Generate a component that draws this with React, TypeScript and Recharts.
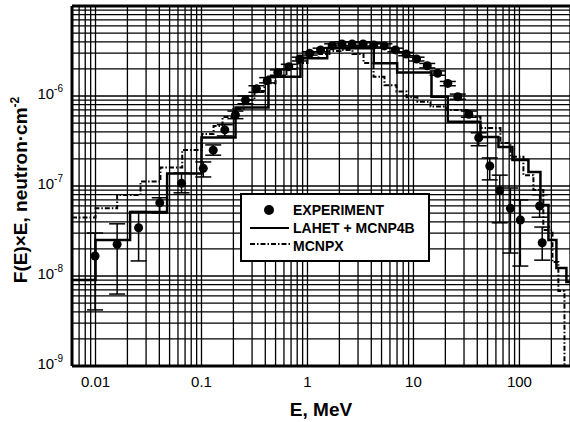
import React from 'react';
import {
  ComposedChart,
  XAxis,
  YAxis,
  CartesianGrid,
  Line,
  Scatter,
  ErrorBar,
  Legend,
  ReferenceLine,
} from 'recharts';

const FONT = '"Liberation Sans", Arial, Helvetica, sans-serif';

// ---------- experimental points ----------
const expE = [0.0099, 0.016, 0.0255, 0.0404, 0.0648, 0.104, 0.129, 0.166, 0.209, 0.26, 0.33, 0.417, 0.525, 0.667, 0.846, 1.05, 1.33, 1.71, 2.12, 2.64, 3.35, 4.22, 5.32, 6.76, 8.53, 10.7, 13.5, 16.9, 21.1, 26.2, 33.3, 41.3, 52.5, 65.2, 82.2, 102, 155, 164];
const expV = [1.67e-8, 2.25e-8, 3.44e-8, 6.5e-8, 1.07e-7, 1.57e-7, 2.5e-7, 4.2e-7, 6.15e-7, 9.0e-7, 1.2e-6, 1.48e-6, 1.83e-6, 2.12e-6, 2.58e-6, 2.98e-6, 3.25e-6, 3.62e-6, 3.79e-6, 3.79e-6, 3.79e-6, 3.69e-6, 3.6e-6, 3.25e-6, 2.93e-6, 2.58e-6, 2.17e-6, 1.79e-6, 1.38e-6, 9.8e-7, 6.27e-7, 3.44e-7, 1.67e-7, 8.9e-8, 5.65e-8, 4.19e-8, 6.0e-8, 2.34e-8];
const expLo = [4.2e-9, 6.3e-9, 1.47e-8, 5.0e-8, 8.4e-8, 1.26e-7, 2.2e-7, 3.6e-7, 5.6e-7, 8.2e-7, 1.1e-6, 1.4e-6, 1.7e-6, 2.0e-6, 2.45e-6, 2.85e-6, 3.1e-6, 3.45e-6, 3.6e-6, 3.6e-6, 3.6e-6, 3.5e-6, 3.4e-6, 3.1e-6, 2.8e-6, 2.45e-6, 2.05e-6, 1.7e-6, 1.3e-6, 9.2e-7, 5.8e-7, 2.8e-7, 1.17e-7, 3.9e-8, 1.8e-8, 1.29e-8, 4.5e-8, 1.5e-8];
const expHi = [3.0e-8, 3.8e-8, 5.2e-8, 7.4e-8, 1.39e-7, 1.85e-7, 2.86e-7, 4.8e-7, 6.8e-7, 1.0e-6, 1.3e-6, 1.6e-6, 1.95e-6, 2.25e-6, 2.7e-6, 3.1e-6, 3.4e-6, 3.8e-6, 4.0e-6, 4.0e-6, 4.0e-6, 3.9e-6, 3.8e-6, 3.4e-6, 3.05e-6, 2.7e-6, 2.3e-6, 1.9e-6, 1.45e-6, 1.05e-6, 6.8e-7, 3.9e-7, 2.05e-7, 1.32e-7, 9.5e-8, 7.0e-8, 8.0e-8, 3.5e-8];

// ---------- LAHET + MCNP4B histogram (bin left edges) ----------
const lahetE = [0.006, 0.01, 0.0212, 0.0474, 0.1, 0.2095, 0.4285, 0.859, 1.535, 4.22, 7.02, 14.8, 21.1, 42.9, 63.4, 85.9, 121.6, 157.8, 187.8, 223.4, 277.5, 300];
const lahetV = [9.03e-9, 2.51e-8, 5.14e-8, 1.38e-7, 3.46e-7, 7.45e-7, 1.64e-6, 2.62e-6, 3.39e-6, 2.31e-6, 1.82e-6, 9.82e-7, 5.17e-7, 3.5e-7, 2.71e-7, 1.95e-7, 1.43e-7, 6.15e-8, 2.51e-8, 1.23e-8, 8.57e-9, 8.57e-9];

// ---------- MCNPX histogram (bin left edges) ----------
const mcnpxE = [0.006, 0.01, 0.016, 0.0266, 0.041, 0.0658, 0.101, 0.13, 0.158, 0.2, 0.249, 0.316, 0.393, 0.499, 0.634, 0.805, 1.0, 1.27, 1.61, 2.05, 2.66, 3.38, 4.2, 5.33, 6.91, 8.6, 10.9, 14.5, 20.8, 32.1, 42.9, 66.2, 82.2, 109, 135.5, 168, 205, 233, 266, 300];
const mcnpxV = [4.47e-8, 5.65e-8, 7.94e-8, 1.12e-7, 1.61e-7, 2.51e-7, 3.78e-7, 4.64e-7, 5.85e-7, 7.18e-7, 9.03e-7, 1.14e-6, 1.39e-6, 1.67e-6, 2.0e-6, 2.33e-6, 2.64e-6, 2.93e-6, 3.16e-6, 3.24e-6, 2.93e-6, 2.33e-6, 1.64e-6, 1.32e-6, 1.12e-6, 9.68e-7, 8.65e-7, 7.63e-7, 6.99e-7, 5.89e-7, 4.41e-7, 3.0e-7, 2.12e-7, 1.32e-7, 9.03e-8, 3.24e-8, 1.43e-8, 6.81e-9, 1e-10, 1e-10];

// ---------- axes ----------
const xDomain = [0.006, 300];
const yDomain = [1e-9, 1e-5];
const xTicks = [
  0.007, 0.008, 0.009,
  0.01, 0.02, 0.03, 0.04, 0.05, 0.06, 0.07, 0.08, 0.09,
  0.1, 0.2, 0.3, 0.4, 0.5, 0.6, 0.7, 0.8, 0.9,
  1, 2, 3, 4, 5, 6, 7, 8, 9,
  10, 20, 30, 40, 50, 60, 70, 80, 90,
  100, 200,
];
const xLabelValues = [0.01, 0.1, 1, 10, 100];
const xLabelTexts = ['0.01', '0.1', '1', '10', '100'];
const yTicks = [
  1e-9, 2e-9, 3e-9, 4e-9, 5e-9, 6e-9, 7e-9, 8e-9, 9e-9,
  1e-8, 2e-8, 3e-8, 4e-8, 5e-8, 6e-8, 7e-8, 8e-8, 9e-8,
  1e-7, 2e-7, 3e-7, 4e-7, 5e-7, 6e-7, 7e-7, 8e-7, 9e-7,
  1e-6, 2e-6, 3e-6, 4e-6, 5e-6, 6e-6, 7e-6, 8e-6, 9e-6,
  1e-5,
];
const yLabelValues = [1e-9, 1e-8, 1e-7, 1e-6];
const yLabelExps = ['-9', '-8', '-7', '-6'];

const legendNames = ['EXPERIMENT', 'LAHET + MCNP4B', 'MCNPX'];

const expData = expE.map((e, i) => ({
  e,
  v: expV[i],
  err: [expV[i] - expLo[i], expHi[i] - expV[i]],
}));
const lahetData = lahetE.map((e, i) => ({ e, v: lahetV[i] }));
const mcnpxData = mcnpxE.map((e, i) => ({ e, v: mcnpxV[i] }));

const DASH = '5 2 1.5 2';

const XTick = (props: any) => {
  const { x, y, payload } = props;
  const idx = xLabelValues.indexOf(payload.value);
  if (idx < 0) return <g />;
  return (
    <text x={x} y={y + 21} textAnchor="middle" fontSize={15} fill="#000" fontFamily={FONT}>
      {xLabelTexts[idx]}
    </text>
  );
};

const YTick = (props: any) => {
  const { x, y, payload } = props;
  const idx = yLabelValues.indexOf(payload.value);
  if (idx < 0) return <g />;
  return (
    <text x={x} y={y + 3} textAnchor="end" fill="#000" fontFamily={FONT}>
      <tspan fontSize={15}>10</tspan>
      <tspan fontSize={10} dy={-7}>{yLabelExps[idx]}</tspan>
    </text>
  );
};

const renderLegend = () => (
  <div
    style={{
      width: 190,
      height: 69,
      boxSizing: 'border-box',
      border: '2px solid #000',
      background: '#fff',
      position: 'relative',
    }}
  >
    <svg width={190} height={69} style={{ position: 'absolute', left: -2, top: -2 }}>
      <circle cx={29} cy={17} r={5} fill="#000" />
      <line x1={10} x2={49} y1={35} y2={35} stroke="#000" strokeWidth={2} />
      <line x1={10} x2={51} y1={51} y2={51} stroke="#000" strokeWidth={2} strokeDasharray={DASH} />
      <text x={53} y={22} fontSize={14} fontWeight="bold" fontFamily={FONT} fill="#000">{legendNames[0]}</text>
      <text x={53} y={40} fontSize={14} fontWeight="bold" fontFamily={FONT} fill="#000">{legendNames[1]}</text>
      <text x={53} y={58} fontSize={14} fontWeight="bold" fontFamily={FONT} fill="#000">{legendNames[2]}</text>
    </svg>
  </div>
);

const YTitle = () => (
  <text
    x={27}
    y={190}
    transform="rotate(-90 27 190)"
    textAnchor="middle"
    fontSize={19}
    fontWeight="bold"
    fontFamily={FONT}
    fill="#000"
  >
    <tspan>F(E)×E, neutron·cm</tspan>
    <tspan fontSize={12} dy={-8}>-2</tspan>
  </text>
);

const XTitle = () => (
  <text x={321} y={416} textAnchor="middle" fontSize={19} fontWeight="bold" fontFamily={FONT} fill="#000">
    E, MeV
  </text>
);

export default function App() {
  return (
    <div style={{ position: 'absolute', left: 0, top: 0, width: 570, height: 422, background: '#fff', fontFamily: FONT }}>
      <ComposedChart width={570} height={422} margin={{ top: 6, right: 0, bottom: 0, left: 0 }}>
        <CartesianGrid stroke="#000" strokeWidth={1.3} />
        <XAxis
          dataKey="e"
          type="number"
          scale="log"
          domain={xDomain}
          allowDataOverflow
          ticks={xTicks}
          interval={0}
          height={56}
          tickSize={0}
          tickMargin={0}
          tickLine={false}
          axisLine={{ stroke: '#000', strokeWidth: 3 }}
          tick={<XTick />}
          label={<XTitle />}
        />
        <YAxis
          dataKey="v"
          type="number"
          scale="log"
          domain={yDomain}
          allowDataOverflow
          ticks={yTicks}
          interval={0}
          width={72}
          tickSize={0}
          tickMargin={9}
          tickLine={false}
          axisLine={{ stroke: '#000', strokeWidth: 3 }}
          tick={<YTick />}
          label={<YTitle />}
        />
        <ReferenceLine y={1e-5} stroke="#000" strokeWidth={3} />
        <Line
          data={mcnpxData}
          dataKey="v"
          type="stepAfter"
          stroke="#000"
          strokeWidth={2}
          strokeDasharray={DASH}
          dot={false}
          isAnimationActive={false}
          name={legendNames[2]}
        />
        <Line
          data={lahetData}
          dataKey="v"
          type="stepAfter"
          stroke="#000"
          strokeWidth={2.5}
          dot={false}
          isAnimationActive={false}
          name={legendNames[1]}
        />
        <Scatter
          data={expData}
          dataKey="v"
          fill="#000"
          isAnimationActive={false}
          name={legendNames[0]}
          shape={(p: any) => <circle cx={p.cx} cy={p.cy} r={4.5} fill="#000" />}
        >
          <ErrorBar dataKey="err" direction="y" width={8} stroke="#000" strokeWidth={1.5} isAnimationActive={false} />
        </Scatter>
        <Legend
          layout="horizontal"
          verticalAlign="middle"
          align="center"
          wrapperStyle={{ left: 240, top: 193, width: 190, height: 69 }}
          content={renderLegend}
        />
      </ComposedChart>
    </div>
  );
}
